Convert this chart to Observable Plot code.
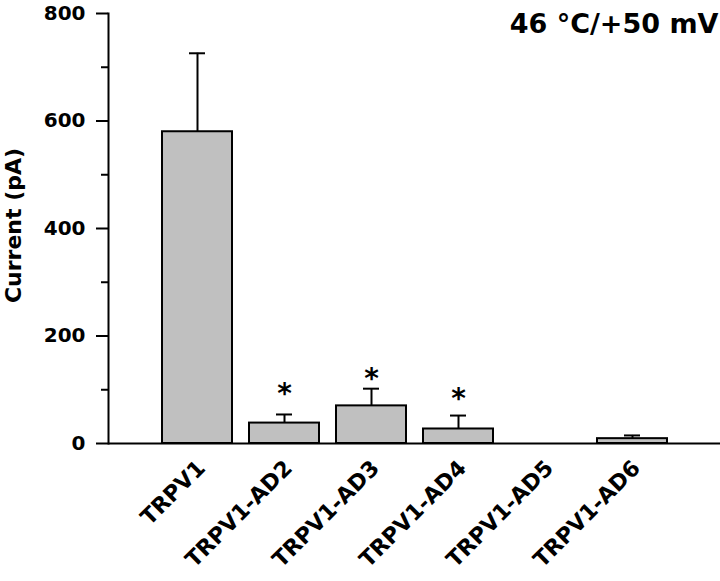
<!DOCTYPE html>
<html><head><meta charset="utf-8">
<script src="https://cdn.jsdelivr.net/npm/d3@7"></script>
<script src="https://cdn.jsdelivr.net/npm/@observablehq/plot@0.6"></script>
<style>body{margin:0;background:#fff} #chart svg{display:block}</style>
</head><body><div id="chart"></div>
<script>
const groups = ["TRPV1", "TRPV1-AD2", "TRPV1-AD3", "TRPV1-AD4", "TRPV1-AD5", "TRPV1-AD6"];
const currents = [580, 38, 70, 27, 0, 9];
const errors = [146, 16, 32, 25, 0, 6];
const significant = ["TRPV1-AD2", "TRPV1-AD3", "TRPV1-AD4"];
const starLevels = [104, 132, 93];
const majorTicks = [0, 200, 400, 600, 800];
const minorTicks = [100, 300, 500, 700];
const titleText = "46 °C/+50 mV";
const yTitle = "Current (pA)";

const rows = groups.map((g, i) => ({group: g, current: currents[i], error: errors[i]}));
const errRows = rows.filter(d => d.error > 0);
const stars = significant.map((g, i) => ({group: g, level: starLevels[i]}));

const plot = Plot.plot({
  width: 720, height: 581,
  marginTop: 13, marginBottom: 138, marginLeft: 108, marginRight: 0,
  style: {fontFamily: "DejaVu Sans", fontWeight: "bold", background: "#fff", color: "#000"},
  x: {domain: groups, paddingInner: 0.2, paddingOuter: 0.6, axis: null},
  y: {domain: [0, 800]},
  marks: [
    Plot.frame({anchor: "left", strokeWidth: 2}),
    Plot.axisY(minorTicks, {tickSize: 7, strokeWidth: 2, tickFormat: () => "", label: null}),
    Plot.axisY(majorTicks, {tickSize: 12, tickPadding: 11, strokeWidth: 2, fontSize: 20, fontWeight: "bold", label: null}),
    Plot.ruleX(errRows, {x: "group", y1: "current", y2: d => d.current + d.error, strokeWidth: 2}),
    Plot.tickY(errRows, {x: "group", y: d => d.current + d.error, strokeWidth: 2, insetLeft: 27, insetRight: 27}),
    Plot.barY(rows, {x: "group", y: "current", fill: "#c0c0c0", stroke: "#000", strokeWidth: 2}),
    Plot.ruleY([0], {strokeWidth: 2}),
    Plot.text(stars, {x: "group", y: "level", text: () => "*", fontSize: 28, fontWeight: "bold", lineAnchor: "middle", dy: 6}),
    Plot.text(groups, {x: d => d, frameAnchor: "bottom", text: d => d, rotate: -45, textAnchor: "end", lineAnchor: "middle", dx: 4, dy: 21, fontSize: 22, fontWeight: "bold"}),
    Plot.text([titleText], {frameAnchor: "top-right", textAnchor: "end", lineAnchor: "top", dx: -2, fontSize: 27, fontWeight: "bold"}),
    Plot.text([yTitle], {frameAnchor: "left", rotate: -90, textAnchor: "middle", dx: -95, dy: -3, lineAnchor: "middle", fontSize: 22, fontWeight: "bold"})
  ]
});
document.getElementById("chart").appendChild(plot);
</script>
</body></html>
